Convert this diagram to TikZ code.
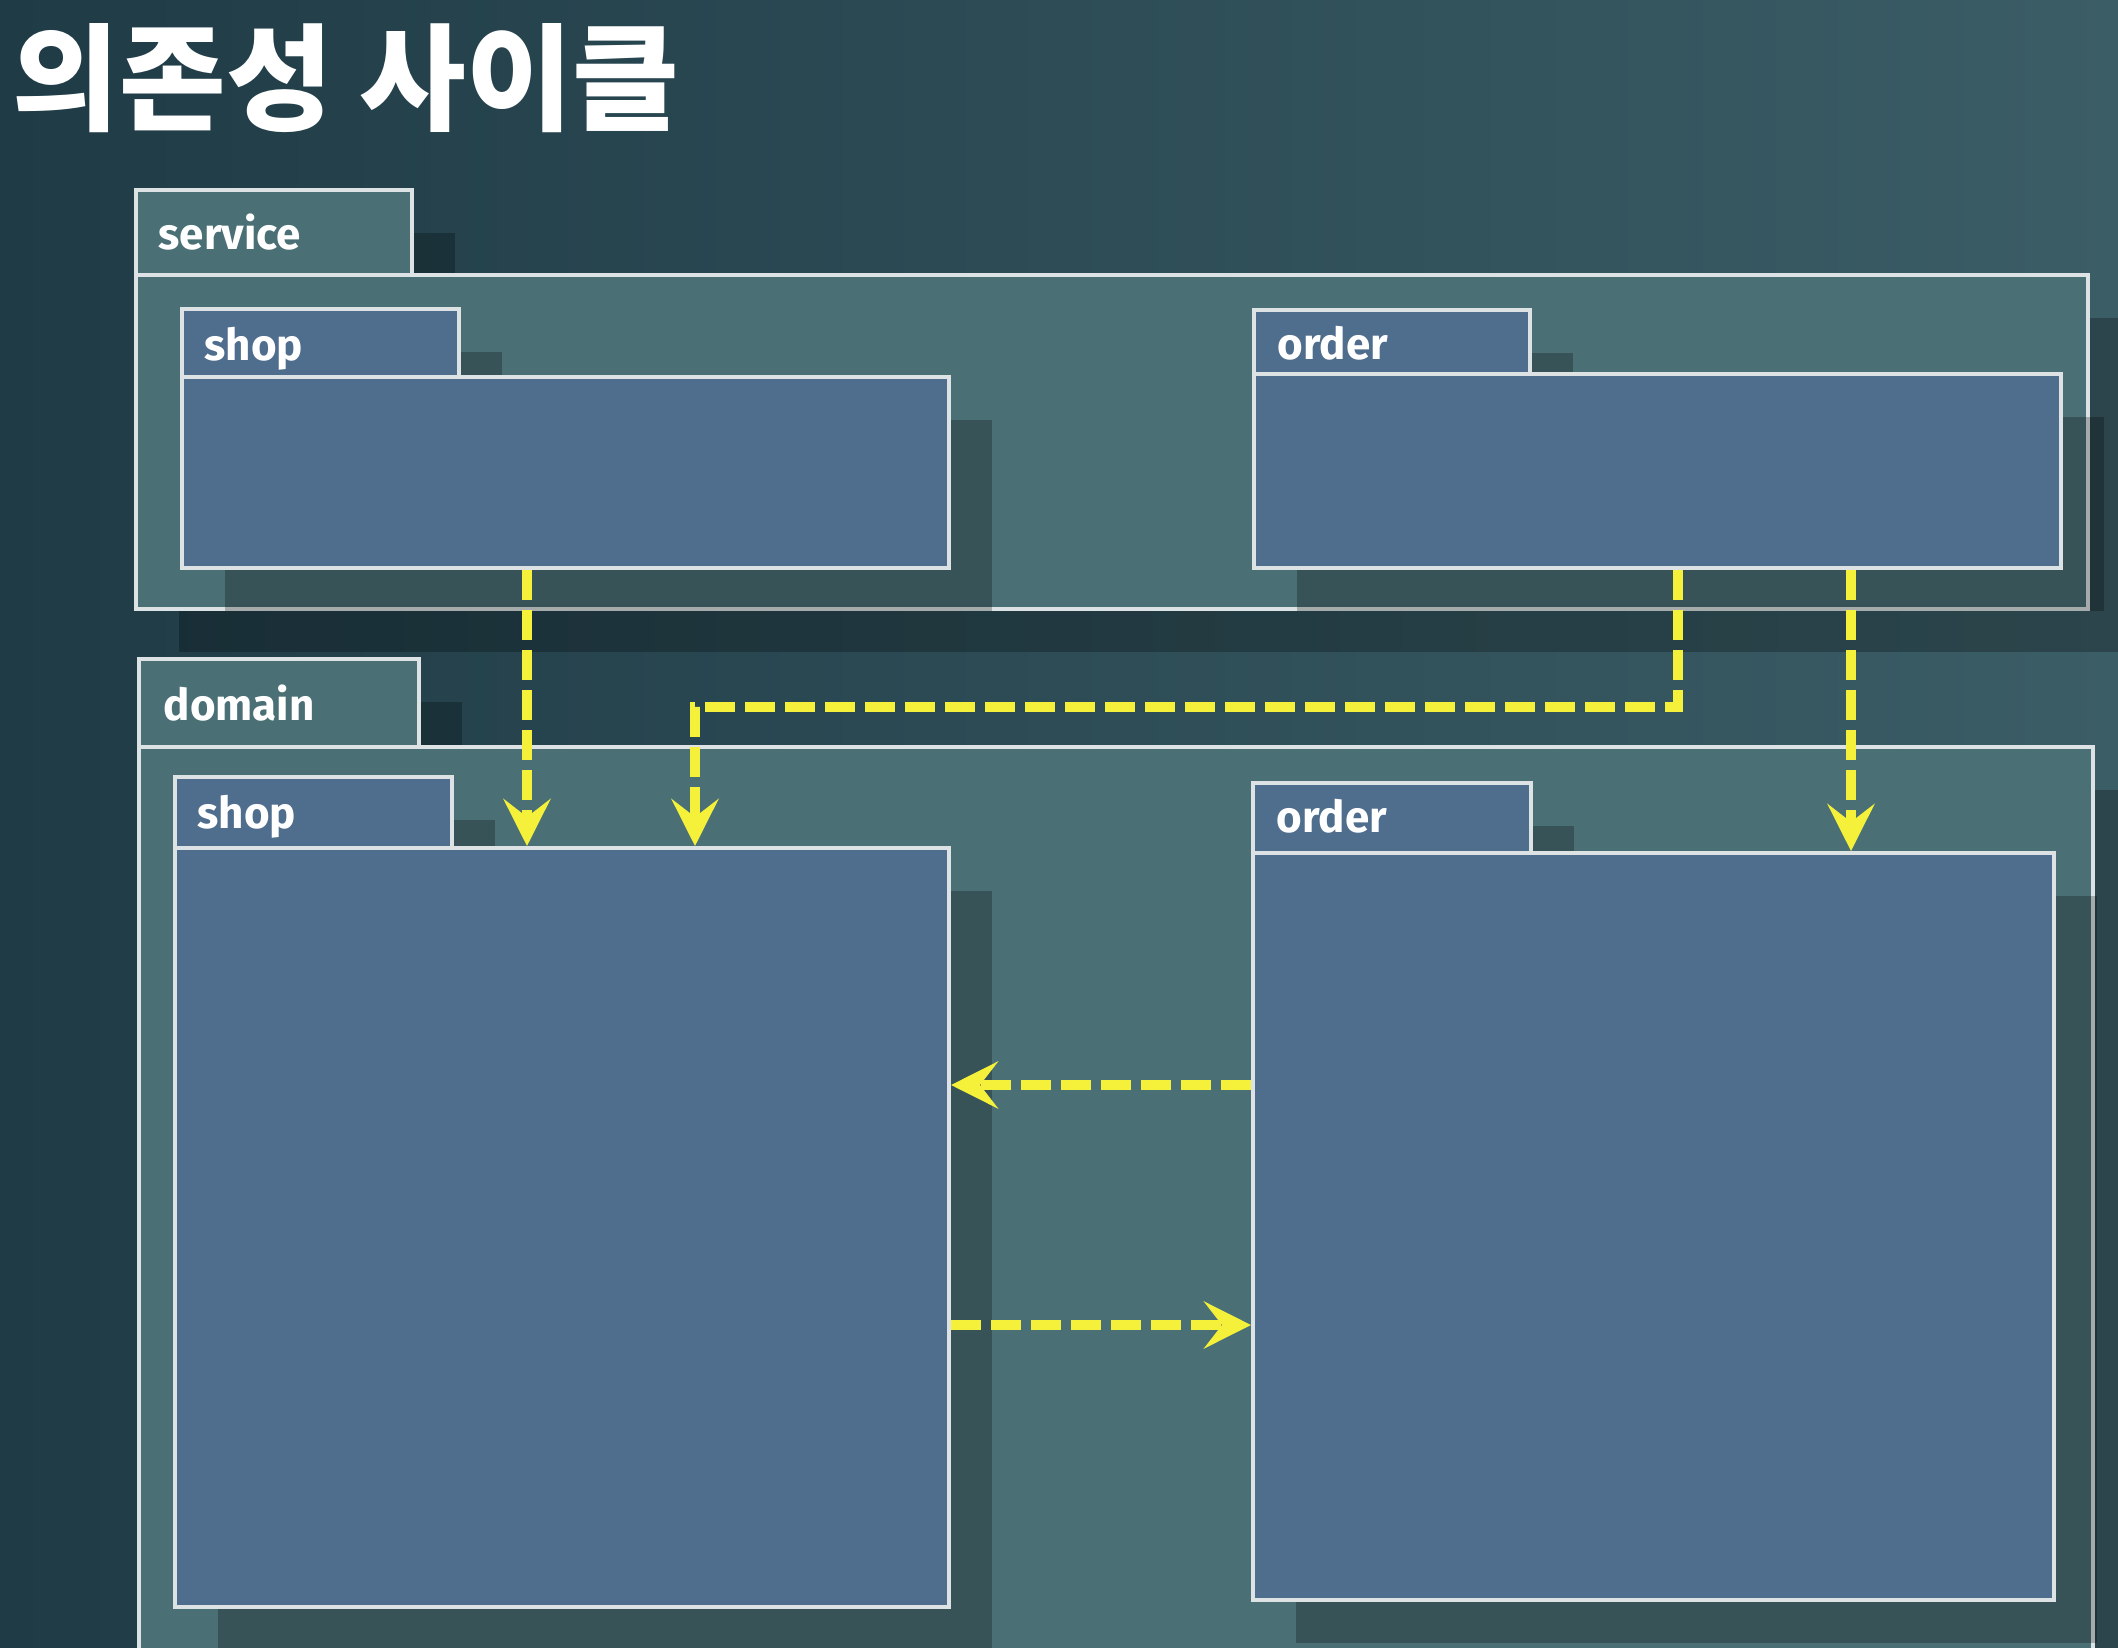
\documentclass[tikz,border=0pt]{standalone}
\usepackage{fontspec}
\setmainfont{Fira Sans}
\newfontfamily\korfont{Noto Sans CJK KR}
\usetikzlibrary{arrows.meta,shadows}
\definecolor{bgdark}{HTML}{1F3B46}
\definecolor{bglight}{HTML}{3B5D66}
\definecolor{pkgfill}{HTML}{4A7075}
\definecolor{modfill}{HTML}{4F6D8D}
\definecolor{edge}{HTML}{DDE3E5}
\definecolor{depline}{HTML}{F5F03A}

\begin{document}
\begin{tikzpicture}[x=1cm, y=-1cm,
  box/.style={draw=edge, line width=0.4mm, anchor=north west, inner sep=0pt,
    drop shadow={shadow xshift=4.3mm, shadow yshift=-4.3mm, fill=black, opacity=0.25}},
  pkg/.style={box, fill=pkgfill},
  mod/.style={box, fill=modfill},
  boxsize/.style 2 args={minimum width=#1cm, minimum height=#2cm},
  lbl/.style={text=white, font=\bfseries\fontsize{12.5}{15}\selectfont, anchor=base west, inner sep=0pt},
  dep/.style={draw=depline, line width=1mm, dash pattern=on 3mm off 1mm,
    -{Stealth[length=4.7mm, width=4.7mm, inset=1.8mm]}}]
  \useasboundingbox (0,0) rectangle (21.18,16.48);
  \clip (0,0) rectangle (21.18,16.48);
  \fill[left color=bgdark, right color=bglight] (0,0) rectangle (21.18,16.48);

  \node[text=white, font=\korfont\bfseries\fontsize{33}{38}\selectfont, anchor=base west, inner sep=0pt] (title) at (0.12,1.21) {의존성 사이클};

  \begin{scope}
    \node[pkg, boxsize={2.76}{0.85}] (svctab) at (1.34,1.88) {};
    \node[pkg, boxsize={19.52}{3.34}] (svc) at (1.34,2.73) {};
    \node[lbl] (svclbl) at ([shift={(0.24,0.61)}]svctab.north west) {service};

    \node[mod, boxsize={2.77}{0.68}] (sshoptab) at (1.80,3.07) {};
    \node[mod, boxsize={7.67}{1.91}] (sshop) at (1.80,3.75) {};
    \node[lbl] (sshoplbl) at ([shift={(0.24,0.53)}]sshoptab.north west) {shop};

    \node[mod, boxsize={2.76}{0.64}] (sordertab) at (12.52,3.08) {};
    \node[mod, boxsize={8.07}{1.94}] (sorder) at (12.52,3.72) {};
    \node[lbl] (sorderlbl) at ([shift={(0.25,0.51)}]sordertab.north west) {order};
  \end{scope}

  \begin{scope}
    \node[pkg, boxsize={2.80}{0.88}] (domtab) at (1.37,6.57) {};
    \node[pkg, boxsize={19.54}{9.55}] (dom) at (1.37,7.45) {};
    \node[lbl] (domlbl) at ([shift={(0.26,0.63)}]domtab.north west) {domain};

    \node[mod, boxsize={2.77}{0.71}] (dshoptab) at (1.73,7.75) {};
    \node[mod, boxsize={7.74}{7.59}] (dshop) at (1.73,8.46) {};
    \node[lbl] (dshoplbl) at ([shift={(0.24,0.53)}]dshoptab.north west) {shop};

    \node[mod, boxsize={2.78}{0.70}] (dordertab) at (12.51,7.81) {};
    \node[mod, boxsize={8.01}{7.47}] (dorder) at (12.51,8.51) {};
    \node[lbl] (dorderlbl) at ([shift={(0.25,0.51)}]dordertab.north west) {order};
  \end{scope}

  \coordinate (s1) at ([xshift=-3.85mm]sshop.south);
  \draw[dep] (s1) -- (s1 |- dshop.north);
  \coordinate (s2) at ([xshift=2.05mm]sorder.south);
  \coordinate (t2) at ([xshift=13.3mm]dshop.north);
  \draw[dep] (s2) -- ++(0,1.37) -| (t2);
  \coordinate (s3) at ([xshift=19.35mm]sorder.south);
  \draw[dep] (s3) -- (s3 |- dorder.north);
  \coordinate (s4) at ([yshift=14.15mm]dorder.west);
  \draw[dep] (s4) -- (s4 -| dshop.east);
  \coordinate (s5) at ([yshift=-9.75mm]dshop.east);
  \draw[dep] (s5) -- (s5 -| dorder.west);
\end{tikzpicture}
\end{document}
